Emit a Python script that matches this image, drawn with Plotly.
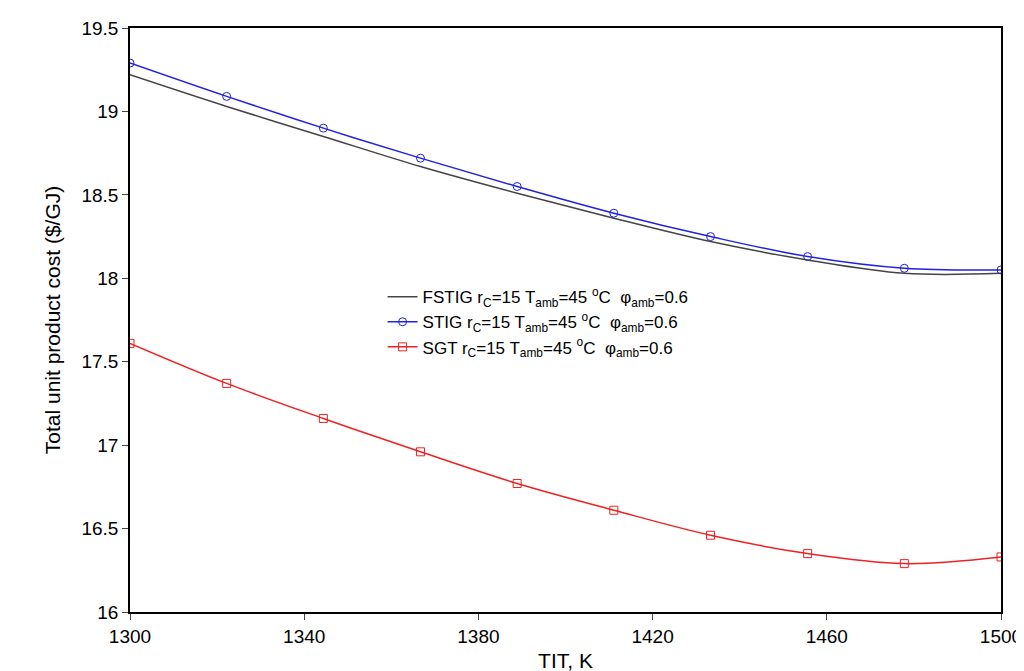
import plotly.graph_objects as go

tit = [1300, 1322.2, 1344.4, 1366.7, 1388.9, 1411.1, 1433.3, 1455.6, 1477.8, 1500]
fstig = [19.22, 19.03, 18.85, 18.67, 18.51, 18.36, 18.22, 18.11, 18.03, 18.03]
stig = [19.29, 19.09, 18.90, 18.72, 18.55, 18.39, 18.25, 18.13, 18.06, 18.05]
sgt = [17.61, 17.37, 17.16, 16.96, 16.77, 16.61, 16.46, 16.35, 16.29, 16.33]

tail = " r<sub>C</sub>=15 T<sub>amb</sub>=45 <sup>o</sup>C  \u03c6<sub>amb</sub>=0.6"

fig = go.Figure()
fig.add_trace(go.Scatter(x=tit, y=fstig, mode="lines", name="FSTIG" + tail,
                         line=dict(color="#444444", width=1.5, shape="spline")))
fig.add_trace(go.Scatter(x=tit, y=stig, mode="lines+markers", name="STIG" + tail,
                         line=dict(color="#2222dd", width=1.5, shape="spline"),
                         marker=dict(symbol="circle-open", size=8, color="#2222dd")))
fig.add_trace(go.Scatter(x=tit, y=sgt, mode="lines+markers", name="SGT" + tail,
                         line=dict(color="#ee2222", width=1.5, shape="spline"),
                         marker=dict(symbol="square-open", size=8, color="#ee2222")))

fig.update_layout(
    width=1024, height=671, plot_bgcolor="white", paper_bgcolor="white",
    margin=dict(l=122, r=24, t=10, b=50),
    font=dict(family="Liberation Sans, Arial", size=19, color="black"),
    legend=dict(x=0.29, y=0.57, xanchor="left", yanchor="top",
                bgcolor="rgba(0,0,0,0)", font=dict(size=17), tracegroupgap=18),
    xaxis=dict(title=dict(text="TIT, K", font=dict(size=21), standoff=8), range=[1300, 1500],
               tickvals=[1300, 1340, 1380, 1420, 1460, 1500],
               showgrid=False, zeroline=False, showline=True, linecolor="black",
               linewidth=1.5, mirror=True, ticks="outside", ticklen=6),
    yaxis=dict(title=dict(text="Total unit product cost ($/GJ)", font=dict(size=21)),
               range=[16, 19.5], dtick=0.5,
               showgrid=False, zeroline=False, showline=True, linecolor="black",
               linewidth=1.5, mirror=True, ticks="outside", ticklen=6),
)
fig.write_html("out.html")
